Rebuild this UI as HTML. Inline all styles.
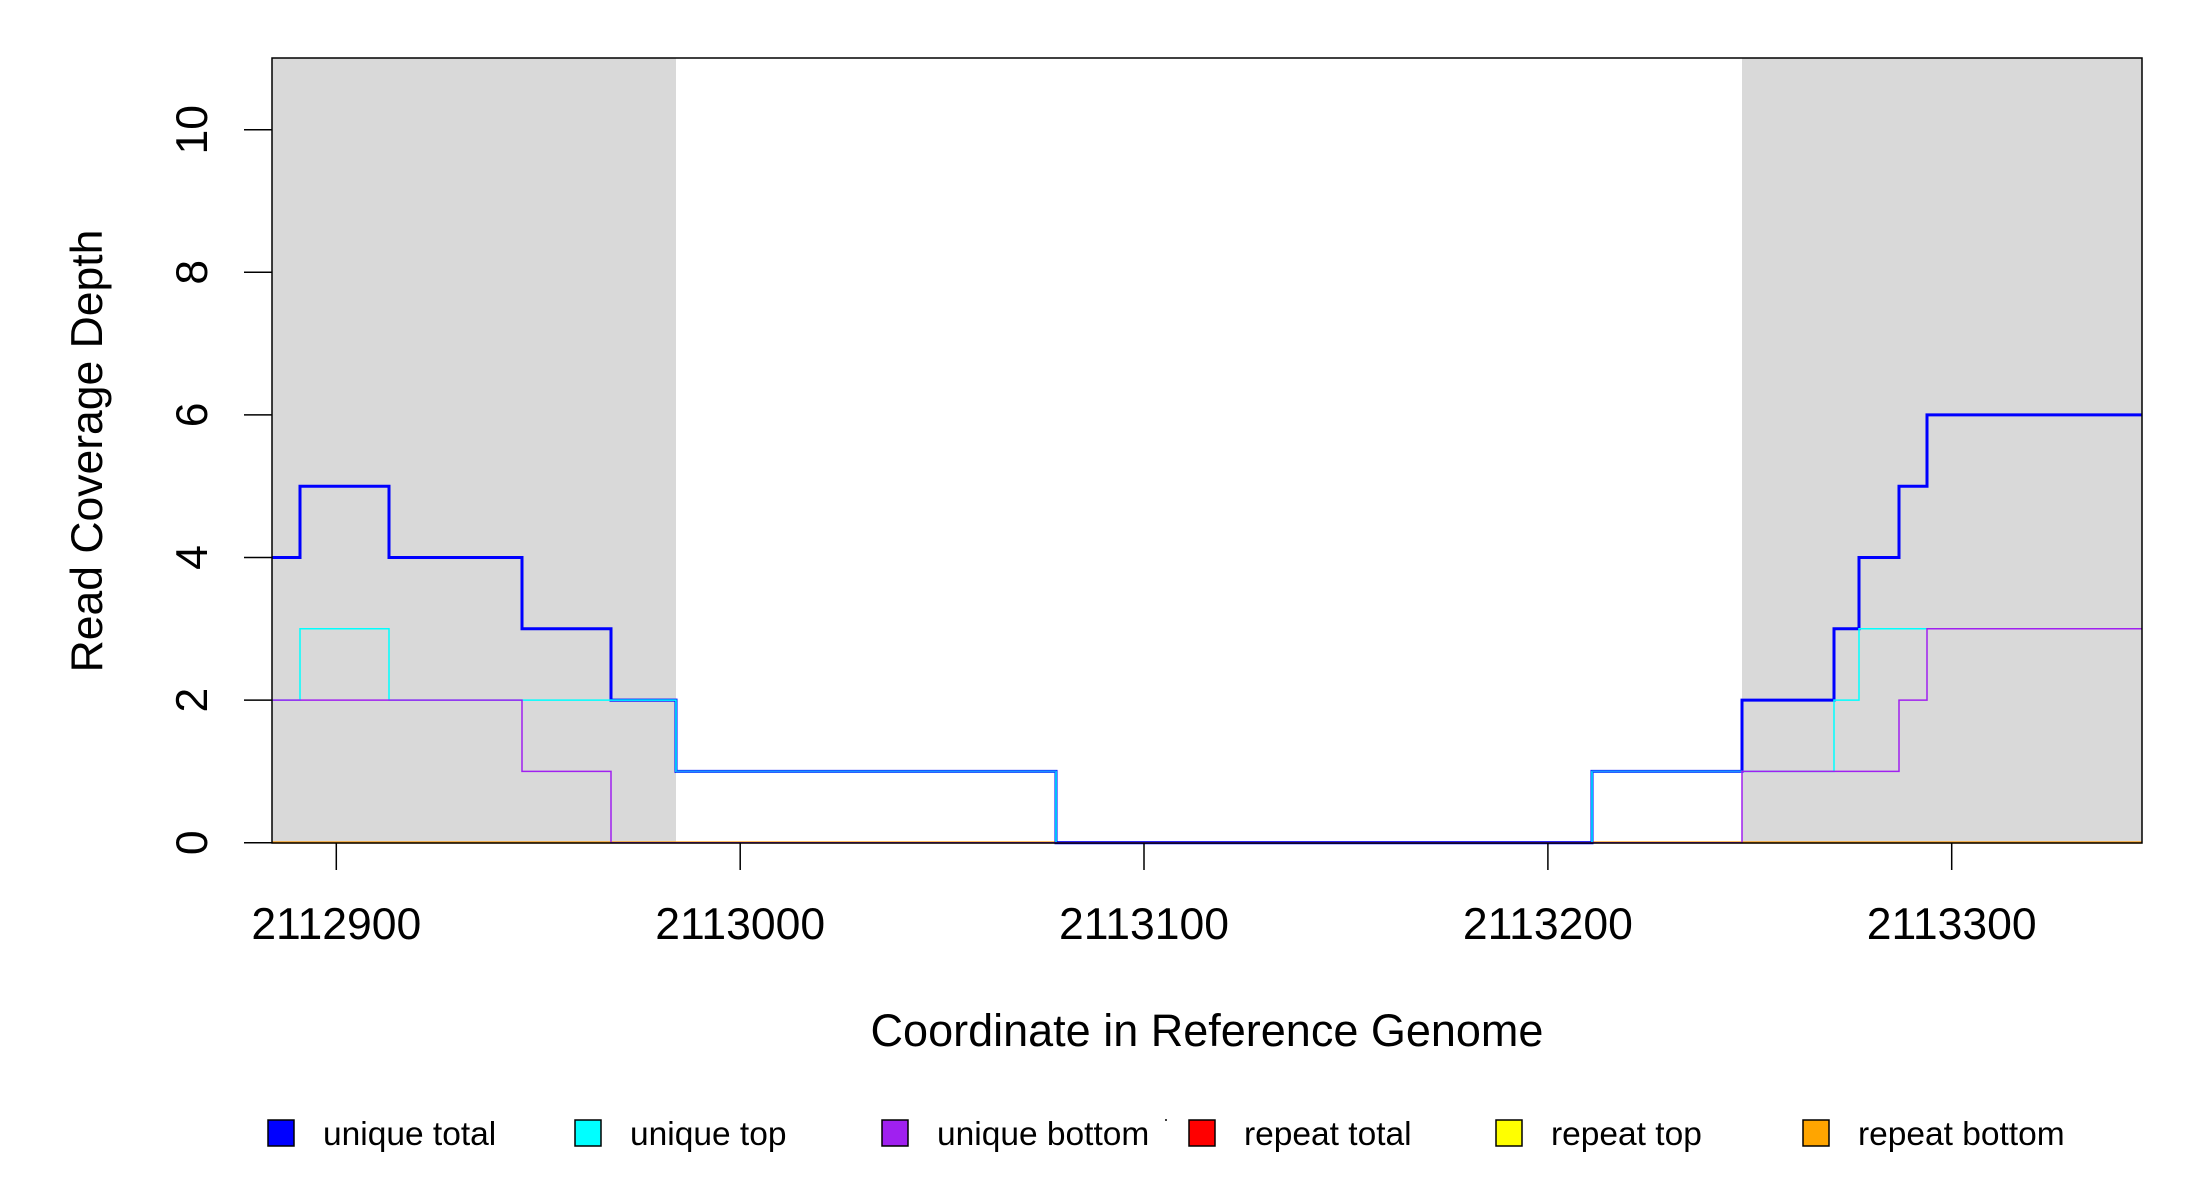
<!DOCTYPE html>
<html><head><meta charset="utf-8"><style>html,body{margin:0;padding:0;background:#fff}svg{display:block}text{font-family:"Liberation Sans",sans-serif;fill:#000}</style></head>
<body>
<svg width="2200" height="1200" viewBox="0 0 2200 1200" xmlns="http://www.w3.org/2000/svg">
<rect x="0" y="0" width="2200" height="1200" fill="#fff"/>
<rect x="272" y="58" width="404" height="785" fill="#d9d9d9"/>
<rect x="1742" y="58" width="400" height="785" fill="#d9d9d9"/>
<line x1="272" y1="842.5" x2="2142" y2="842.5" stroke="#ff9900" stroke-width="2.2"/>
<line x1="1056" y1="842.5" x2="1592" y2="842.5" stroke="#5a50e6" stroke-width="2.5"/>
<polyline fill="none" stroke="#0000ff" stroke-width="3" points="272,557.5 300,557.5 300,486.2 389,486.2 389,557.5 522,557.5 522,628.8 611,628.8 611,700.1 676,700.1 676,771.4 1056,771.4 1056,842.7 1592,842.7 1592,771.4 1742,771.4 1742,700.1 1834,700.1 1834,628.8 1859,628.8 1859,557.5 1899,557.5 1899,486.2 1927,486.2 1927,414.9 2142,414.9"/>
<polyline fill="none" stroke="#00ffff" stroke-width="1.5" points="272,700.1 300,700.1 300,628.8 389,628.8 389,700.1 676,700.1 676,771.4 1056,771.4 1056,842.7 1592,842.7 1592,771.4 1834,771.4 1834,700.1 1859,700.1 1859,628.8 2142,628.8"/>
<line x1="676" y1="771.4" x2="1056" y2="771.4" stroke="#1e90ff" stroke-width="2"/>
<line x1="1592" y1="771.4" x2="1742" y2="771.4" stroke="#1e90ff" stroke-width="2"/>
<polyline fill="none" stroke="#a020f0" stroke-width="1.5" points="272,700.1 522,700.1 522,771.4 611,771.4 611,842.7 1742,842.7 1742,771.4 1899,771.4 1899,700.1 1927,700.1 1927,628.8 2142,628.8"/>
<rect x="272" y="58" width="1870" height="785" fill="none" stroke="#000" stroke-width="1.5"/>
<g stroke="#000" stroke-width="1.5">
<line x1="244" y1="842.7" x2="272" y2="842.7"/>
<line x1="244" y1="700.1" x2="272" y2="700.1"/>
<line x1="244" y1="557.5" x2="272" y2="557.5"/>
<line x1="244" y1="414.9" x2="272" y2="414.9"/>
<line x1="244" y1="272.3" x2="272" y2="272.3"/>
<line x1="244" y1="129.7" x2="272" y2="129.7"/>
<line x1="336.3" y1="843" x2="336.3" y2="870"/>
<line x1="740.2" y1="843" x2="740.2" y2="870"/>
<line x1="1144" y1="843" x2="1144" y2="870"/>
<line x1="1547.9" y1="843" x2="1547.9" y2="870"/>
<line x1="1951.7" y1="843" x2="1951.7" y2="870"/>
</g>
<g font-size="44.5" text-anchor="middle">
<text transform="translate(207,842.7) rotate(-90)">0</text>
<text transform="translate(207,700.1) rotate(-90)">2</text>
<text transform="translate(207,557.5) rotate(-90)">4</text>
<text transform="translate(207,414.9) rotate(-90)">6</text>
<text transform="translate(207,272.3) rotate(-90)">8</text>
<text transform="translate(207,129.7) rotate(-90)">10</text>
<text x="336.3" y="939">2112900</text>
<text x="740.2" y="939">2113000</text>
<text x="1144" y="939">2113100</text>
<text x="1547.9" y="939">2113200</text>
<text x="1951.7" y="939">2113300</text>
<text x="1207" y="1046" font-size="45">Coordinate in Reference Genome</text>
<text transform="translate(102,451) rotate(-90)">Read Coverage Depth</text>
</g>
<g stroke="#000" stroke-width="1.5">
<rect x="268" y="1120" width="26" height="26" fill="#0000ff"/>
<rect x="575" y="1120" width="26" height="26" fill="#00ffff"/>
<rect x="882" y="1120" width="26" height="26" fill="#a020f0"/>
<rect x="1189" y="1120" width="26" height="26" fill="#ff0000"/>
<rect x="1496" y="1120" width="26" height="26" fill="#ffff00"/>
<rect x="1803" y="1120" width="26" height="26" fill="#ffa500"/>
</g>
<circle cx="1166" cy="1120" r="1" fill="#000"/>
<g font-size="33.5">
<text x="323" y="1145">unique total</text>
<text x="630" y="1145">unique top</text>
<text x="937" y="1145">unique bottom</text>
<text x="1244" y="1145">repeat total</text>
<text x="1551" y="1145">repeat top</text>
<text x="1858" y="1145">repeat bottom</text>
</g>
</svg>
</body></html>
